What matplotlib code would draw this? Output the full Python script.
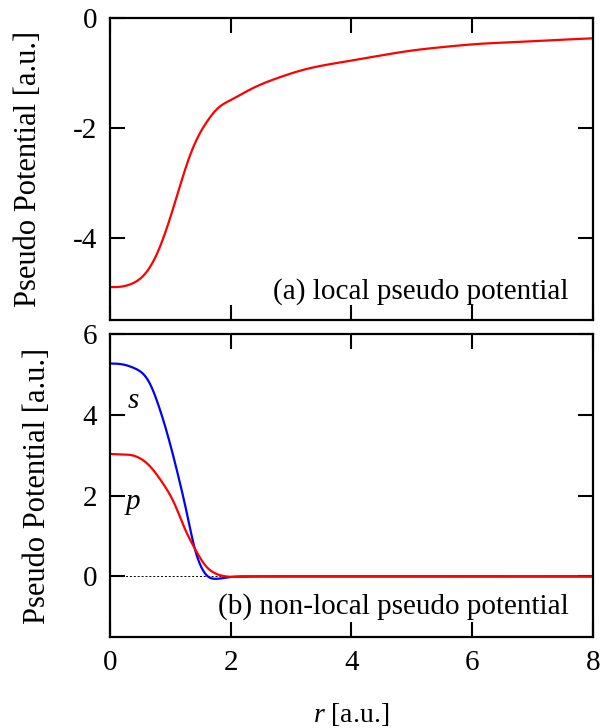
import numpy as np
import matplotlib
matplotlib.use("Agg")
import matplotlib.pyplot as plt

plt.rcParams['font.family'] = ['Liberation Serif', 'DejaVu Serif']
plt.rcParams['mathtext.fontset'] = 'custom'
plt.rcParams['mathtext.rm'] = 'Liberation Serif'
plt.rcParams['mathtext.it'] = 'Liberation Serif:italic'

# (a) potencial local
r_loc = [0.0, 0.2, 0.36, 0.58, 0.80, 0.97, 1.14, 1.30, 1.46, 1.63, 1.79, 2.01,
         2.24, 2.50, 2.81, 3.15, 3.50, 3.92, 4.50, 5.02, 5.60, 6.13, 6.70, 7.23, 8.0]
v_loc = [-4.90, -4.89, -4.84, -4.66, -4.24, -3.73, -3.13, -2.58, -2.16, -1.85,
         -1.64, -1.49, -1.35, -1.21, -1.08, -0.96, -0.87, -0.79, -0.68, -0.59,
         -0.52, -0.47, -0.44, -0.41, -0.37]

# (b) potencial no local, canales s y p
r_s = [0.0, 0.20, 0.41, 0.64, 0.80, 0.97, 1.14, 1.28, 1.39, 1.50, 1.64, 1.75,
       1.97, 2.30, 2.7, 3.2, 4.0, 5.0, 6.0, 7.0, 8.0]
v_s = [5.27, 5.25, 5.15, 4.83, 4.25, 3.42, 2.43, 1.52, 0.77, 0.27, -0.02, -0.06,
       -0.02, 0.0, 0.0, 0.0, 0.0, 0.0, 0.0, 0.0, 0.0]

r_p = [0.0, 0.20, 0.36, 0.64, 0.86, 1.08, 1.24, 1.39, 1.58, 1.75, 1.92, 2.20,
       2.6, 3.0, 4.0, 5.0, 6.0, 7.0, 8.0]
v_p = [3.03, 3.02, 3.00, 2.76, 2.34, 1.76, 1.18, 0.73, 0.27, 0.07, 0.0, -0.01,
       0.0, 0.0, 0.0, 0.0, 0.0, 0.0, 0.0]

def suave(xs, ys, n=800):
    # spline cubico natural sobre los puntos leidos
    xs = np.asarray(xs, float); ys = np.asarray(ys, float)
    k = len(xs)
    h = np.diff(xs)
    A = np.zeros((k, k)); b = np.zeros(k)
    A[0, 0] = A[-1, -1] = 1.0
    for j in range(1, k - 1):
        A[j, j - 1] = h[j - 1]
        A[j, j] = 2 * (h[j - 1] + h[j])
        A[j, j + 1] = h[j]
        b[j] = 6 * ((ys[j + 1] - ys[j]) / h[j] - (ys[j] - ys[j - 1]) / h[j - 1])
    M = np.linalg.solve(A, b)
    x = np.linspace(xs[0], xs[-1], n)
    i = np.clip(np.searchsorted(xs, x, side='right') - 1, 0, k - 2)
    a = xs[i + 1] - x; c = x - xs[i]; hi = h[i]
    y = (M[i] * a**3 / (6 * hi) + M[i + 1] * c**3 / (6 * hi)
         + (ys[i] / hi - M[i] * hi / 6) * a + (ys[i + 1] / hi - M[i + 1] * hi / 6) * c)
    return x, y

fig = plt.figure(figsize=(6, 7.28), dpi=100)
ax1 = fig.add_axes([0.1833, 0.5604, 0.805, 0.4149])
ax2 = fig.add_axes([0.1833, 0.125, 0.805, 0.4162])

fs = 21
for ax in (ax1, ax2):
    ax.set_xlim(0, 8)
    ax.set_xticks([0, 2, 4, 6, 8])
    ax.tick_params(direction='in', length=11, width=1.5, top=True, right=True,
                   labelsize=fs, pad=9)
    for s in ax.spines.values():
        s.set_linewidth(1.6)

x, y = suave(r_loc, v_loc)
ax1.plot(x, y, color='red', lw=1.6)
ax1.set_ylim(-5.5, 0)
ax1.set_yticks([0, -2, -4])
ax1.set_yticklabels(['0', '-2', '-4'])
ax1.tick_params(labelbottom=False)
ax1.set_ylabel('Pseudo Potential [a.u.]', fontsize=fs + 1, labelpad=22)
ax1.text(7.6, -4.98, '(a) local pseudo potential', fontsize=fs,
         ha='right', va='center')

ax2.plot([0, 8], [0, 0], color='black', lw=0.7, ls=(0, (2, 2)))
x, y = suave(r_s, v_s)
ax2.plot(x, y, color='blue', lw=1.6)
x, y = suave(r_p, v_p)
ax2.plot(x, y, color='red', lw=1.6)
ax2.set_ylim(-1.5, 6)
ax2.set_yticks([0, 2, 4, 6])
ax2.set_ylabel('Pseudo Potential [a.u.]', fontsize=fs + 1, labelpad=22)
ax2.text(0.38, 4.35, 's', fontsize=fs, style='italic', ha='center', va='center')
ax2.text(0.38, 1.83, 'p', fontsize=fs, style='italic', ha='center', va='center')
ax2.text(7.6, -0.75, '(b) non-local pseudo potential', fontsize=fs,
         ha='right', va='center')
ax2.set_xlabel(r'$r$ [a.u.]', fontsize=fs - 1, labelpad=18)

fig.align_ylabels([ax1, ax2])
fig.savefig('out.png', dpi=100)
